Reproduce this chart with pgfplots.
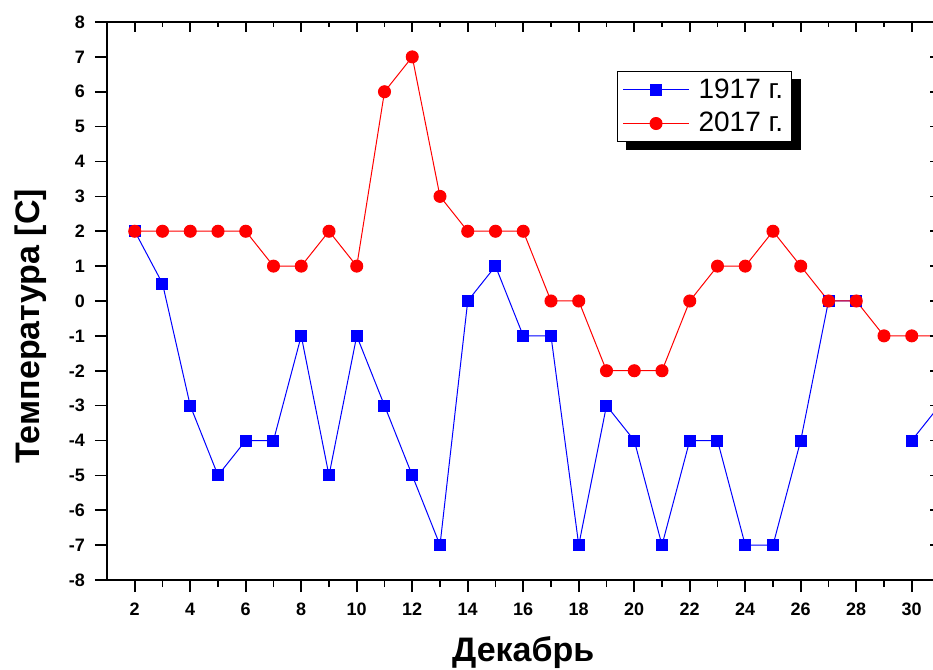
\documentclass[border=0pt]{standalone}
\usepackage{fontspec}
\setmainfont{Liberation Sans}
\usepackage{pgfplots}
\pgfplotsset{compat=1.18}
\pgfdeclarelayer{background}
\pgfsetlayers{background,main}

\pgfplotsset{
  frame/.style={
    scale only axis, width=416.25pt, height=279pt,
    xmin=1, xmax=31, ymin=-8, ymax=8,
    xtick={2,4,...,30}, minor xtick={3,5,...,29},
    ytick={-8,-7,...,8},
    axis line style={line width=1pt},
    tick style={black, line width=0.8pt},
  },
}

\begin{document}
\begin{tikzpicture}
\begin{axis}[
  frame,
  xtick pos=bottom, ytick pos=left, tick align=outside,
  major tick length=6pt, minor tick length=3.5pt,
  /pgf/number format/assume math mode=true,
  ticklabel style={font=\bfseries\fontsize{9}{10}\selectfont},
  yticklabel style={xshift=-1.5pt},
  xticklabel style={yshift=-2pt},
  xlabel={Декабрь}, ylabel={Температура [C]},
  label style={font=\bfseries\fontsize{17}{20}\selectfont},
  xlabel style={at={(axis description cs:0.5,-0.1452)}, anchor=base},
  ylabel style={at={(axis description cs:-0.0805,0.455)}, anchor=base, rotate=0},
  unbounded coords=jump,
  legend style={name=leg, at={(axis description cs:0.6126,0.912)}, anchor=north west,
    draw=black, line width=0.6pt, fill=white,
    font=\fontsize{14}{16}\selectfont,
    inner xsep=0pt, inner ysep=1.5pt, row sep=1.5pt,
    nodes={inner xsep=4pt}},
  legend cell align=left,
  legend image code/.code={
    \path (0pt,0pt) (36pt,0pt);
    \draw[mark repeat=2, mark phase=2, #1]
      plot coordinates {(2.5pt,0pt) (19pt,0pt) (35.5pt,0pt)};},
]
\addplot[blue, line width=0.5pt, mark=square*, mark size=2.75pt,
  mark options={solid, fill=blue}] coordinates {
  (2,2) (3,0.5) (4,-3) (5,-5) (6,-4) (7,-4) (8,-1) (9,-5) (10,-1)
  (11,-3) (12,-5) (13,-7) (14,0) (15,1) (16,-1) (17,-1) (18,-7)
  (19,-3) (20,-4) (21,-7) (22,-4) (23,-4) (24,-7) (25,-7) (26,-4)
  (27,0) (28,0) (29,nan) (30,-4) (31,-3)
};
\addplot[red, line width=0.5pt, mark=*, mark size=3pt,
  mark options={solid, fill=red}] coordinates {
  (2,2) (3,2) (4,2) (5,2) (6,2) (7,1) (8,1) (9,2) (10,1) (11,6)
  (12,7) (13,3) (14,2) (15,2) (16,2) (17,0) (18,0) (19,-2) (20,-2)
  (21,-2) (22,0) (23,1) (24,1) (25,2) (26,1) (27,0) (28,0) (29,-1)
  (30,-1) (31,-1)
};
\legend{1917 г., 2017 г.}
\end{axis}
\begin{pgfonlayer}{background}
  \fill[black] ([shift={(4.5pt,-4pt)}]leg.south west)
    rectangle ([shift={(4.5pt,-4pt)}]leg.north east);
\end{pgfonlayer}
\begin{axis}[
  frame,
  xtick pos=top, ytick pos=right, tick align=inside,
  major tick length=5pt, minor tick length=2.5pt,
  xticklabels={}, yticklabels={},
]
\end{axis}
\pgfresetboundingbox
\useasboundingbox (-53.5pt,-45pt) rectangle (413pt,290pt);
\end{tikzpicture}
\end{document}
